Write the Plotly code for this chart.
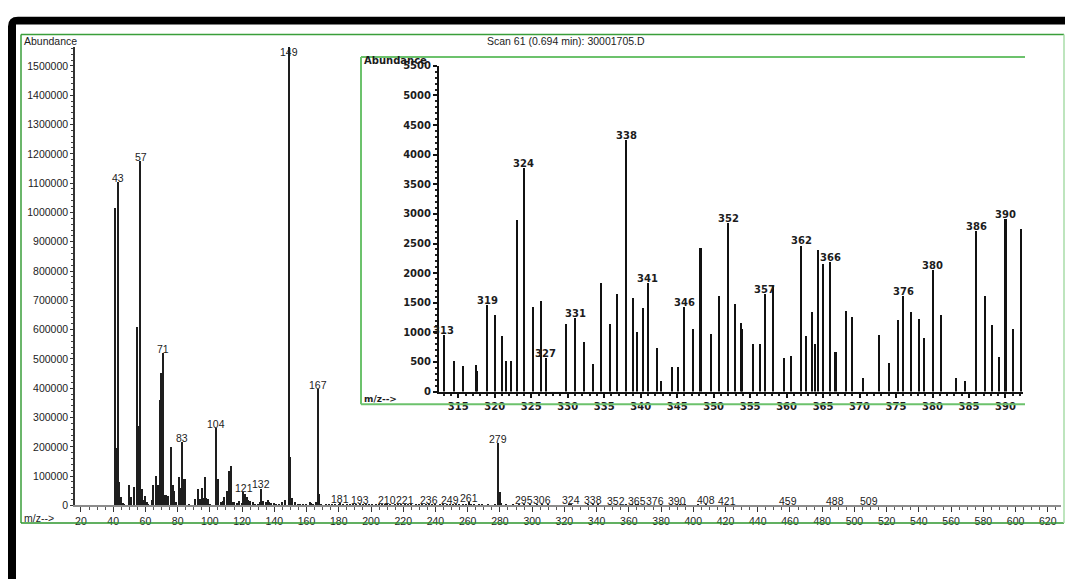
import plotly.graph_objects as go

W, H = 1065, 585

# ---- spectrum data: m/z and abundance ----
# low-mass region (main spectrum)
low_mz = [41, 42, 43, 44, 45, 46, 47, 50, 51, 53, 55, 56, 57, 58, 59, 60, 61, 62, 64, 65,
          67, 68, 69, 70, 71, 72, 73, 74, 76, 77, 78, 79, 81, 82, 83, 84, 85, 87, 91, 93,
          94, 95, 96, 97, 98, 99, 100, 104, 105, 107, 108, 109, 111, 112, 113, 114, 115, 117, 118, 120,
          121, 122, 123, 124, 125, 127, 128, 130, 131, 132, 133, 135, 136, 137, 138, 140, 141, 143, 145, 147,
          149, 150, 151, 153, 155, 156, 158, 160, 162, 163, 164, 166, 167, 168, 169, 172]
low_ab = [1015000, 195000, 1105000, 80000, 28000, 8000, 6700, 71000, 30000, 63000,
          610000, 273000, 1177000, 57000, 18000, 33500, 11000, 4500, 18000, 68500,
          102000, 68500, 361000, 454000, 521000, 34600, 34600, 34000, 198600, 68500,
          48000, 13400, 98600, 60500, 218000, 92000, 92000, 6700, 23400, 57000,
          23400, 60300, 25700, 96000, 25700, 23400, 6700, 265000, 89000, 13400,
          15000, 27800, 50000, 117000, 136000, 13400, 11200, 8000, 15600, 7800,
          47000, 39000, 28000, 20000, 16700, 11200, 6700, 5600, 13400, 58000,
          14500, 13400, 18000, 13400, 8000, 7800, 5600, 5600, 12000, 17900,
          1565000, 167000, 24500, 11200, 6700, 4500, 4500, 4500, 13400, 8000,
          5600, 11200, 398000, 39000, 5600, 4500]

# middle region
mid_mz = [174, 176, 178, 180, 181, 183, 185, 187, 189, 191, 193, 195, 197, 199, 201, 203, 205, 207, 209, 210,
          212, 215, 217, 219, 221, 223, 225, 228, 230, 232, 234, 236, 238, 240, 243, 245, 247, 249, 251, 253,
          255, 257, 259, 261, 262, 264, 267, 269, 273, 277, 279, 280, 281, 284, 288, 292, 295, 299, 303, 306, 310]
mid_ab = [3000, 4500, 3500, 5000, 8000, 4000, 3000, 4500, 3000, 3500, 6500, 3000, 4000, 2500, 3000, 3500, 2500, 4000, 3000, 5000,
          3000, 3500, 2500, 3000, 5000, 3000, 2500, 3000, 2500, 3500, 3000, 5500, 3000, 2500, 3000, 2500, 3000, 3500, 2500, 3000,
          4000, 3000, 3500, 11000, 4500, 3000, 2500, 3000, 2500, 2500, 214000, 44600, 8000, 2000, 2500, 2000, 3500, 2000, 2000, 3500, 2000]

# high-mass tail
high_mz = [395, 399, 403, 408, 412, 416, 421, 430, 440, 450, 459, 470, 480, 488, 497, 509]
high_ab = [2000, 1500, 2000, 6000, 1500, 1500, 3000, 1500, 1200, 1500, 2500, 1200, 1500, 2500, 1200, 2500]

# expanded region m/z 313-392 (inset)
zoom_mz = [313, 314.4, 315.6, 317.4, 317.6, 319, 320.0, 321.0, 321.6, 322.2,
           323.0, 324, 325.2, 326.3, 327, 329.7, 331, 332.2, 333.5, 334.6,
           335.8, 336.8, 338, 339.0, 339.5, 340.3, 341, 342.2, 342.8, 344.3,
           345.1, 346, 347.2, 348.2, 349.6, 350.8, 352, 352.9, 353.7, 353.9,
           355.4, 356.3, 357, 358.1, 359.6, 360.6, 362, 362.6, 363.5, 363.9,
           364.3, 365, 366, 366.7, 368.2, 369.0, 370.5, 372.6, 374.0, 375.3,
           376, 377.0, 378.1, 378.8, 380, 381.1, 383.2, 384.4, 386, 387.2,
           388.1, 389.1, 390, 391.0, 392.1]
zoom_ab = [960, 525, 436, 453, 353, 1457, 1292, 939, 519, 519,
           2898, 3781, 1424, 1535, 563, 1137, 1242, 839, 469, 1833,
           1143, 1651, 4256, 1590, 1005, 1413, 1838, 740, 182, 419,
           419, 1435, 1060, 2423, 972, 1612, 2853, 1474, 1154, 1060,
           811, 811, 1651, 1788, 563, 608, 2467, 939, 1346, 800,
           2401, 2164, 2191, 674, 1363, 1264, 232, 966, 485, 1214,
           1612, 1346, 1225, 911, 2053, 1303, 232, 187, 2716, 1612,
           1126, 591, 2920, 1060, 2744]

main_labels = [43, 57, 71, 83, 104, 121, 132, 149, 167, 181, 193, 210, 221, 236, 249, 261,
               279, 295, 306, 324, 338, 352, 365, 376, 390, 408, 421, 459, 488, 509]
zoom_labels = [313, 319, 324, 327, 331, 338, 341, 346, 352, 357, 362, 366, 376, 380, 386, 390]

title_text = "Scan 61 (0.694 min): 30001705.D"

# ---- assemble full spectrum ----
all_mz = low_mz + mid_mz + zoom_mz + high_mz
all_ab = low_ab + mid_ab + zoom_ab + high_ab
lookup = dict(zip(all_mz, all_ab))
zoom_lookup = dict(zip(zoom_mz, zoom_ab))


def fx(px):
    return px / W


def fy(py):
    return 1 - py / H


SANS = "Liberation Sans, Arial, sans-serif"
WIDE = "DejaVu Sans, Verdana, sans-serif"
TXT = "#1c1c1c"

fig = go.Figure()
fig.add_trace(go.Bar(x=all_mz, y=all_ab, width=0.9, marker=dict(color="#1e1e1e", line=dict(width=0)),
                     xaxis="x", yaxis="y", hoverinfo="x+y"))
fig.add_trace(go.Bar(x=zoom_mz, y=zoom_ab, width=0.28, marker=dict(color="#111111", line=dict(width=0)),
                     xaxis="x2", yaxis="y2", hoverinfo="x+y"))

ann = []
label_ceiling = 1535000
for m in main_labels:
    v = lookup[m]
    ann.append(dict(x=m, y=min(v, label_ceiling), xref="x", yref="y", text=str(m), showarrow=False,
                    yanchor="bottom", xanchor="center", yshift=-4,
                    font=dict(family=SANS, size=10.5, color=TXT)))
for m in zoom_labels:
    v = zoom_lookup[m]
    ann.append(dict(x=m, y=v, xref="x2", yref="y2", text=str(m), showarrow=False,
                    yanchor="bottom", xanchor="center", yshift=-3,
                    font=dict(family=WIDE, size=10, color=TXT, weight=700)))

ann += [
    dict(x=fx(566), y=fy(37), xref="paper", yref="paper", text=title_text, showarrow=False,
         xanchor="center", yanchor="middle", font=dict(family=SANS, size=10.5, color=TXT)),
    dict(x=fx(22), y=fy(37), xref="paper", yref="paper", text="Abundance", showarrow=False,
         xanchor="left", yanchor="middle", font=dict(family=SANS, size=10.5, color=TXT)),
    dict(x=fx(22), y=fy(523), xref="paper", yref="paper", text="m/z-->", showarrow=False,
         xanchor="left", yanchor="middle", font=dict(family=SANS, size=10.5, color=TXT)),
    dict(x=fx(362), y=fy(57), xref="paper", yref="paper", text="Abundance", showarrow=False,
         xanchor="left", yanchor="middle", font=dict(family=WIDE, size=10, color=TXT, weight=700)),
    dict(x=fx(362), y=fy(402), xref="paper", yref="paper", text="m/z-->", showarrow=False,
         xanchor="left", yanchor="middle", font=dict(family=WIDE, size=9, color=TXT, weight=700)),
]

# frame lines
def seg(x0, y0, x1, y1, color, width):
    return dict(type="line", xref="paper", yref="paper", x0=fx(x0), y0=fy(y0), x1=fx(x1), y1=fy(y1),
                line=dict(color=color, width=width))


frame_path = (f"M {fx(8)},{fy(585)} L {fx(8)},{fy(22)} Q {fx(8)},{fy(12)} {fx(18)},{fy(12)} "
              f"L {fx(1065)},{fy(12)} L {fx(1065)},{fy(20)} L {fx(16)},{fy(20)} L {fx(16)},{fy(585)} Z")
shapes = [
    dict(type="path", xref="paper", yref="paper", path=frame_path, fillcolor="#000000", line=dict(width=0)),
    seg(21, 30, 1064, 30, "#3a9e3a", 1.5),
    seg(21, 30, 21, 528, "#3a9e3a", 1.5),
    seg(21, 528, 1064, 528, "#2d962d", 1.5),
    seg(1064, 30, 1064, 528, "#a8dca8", 1.5),
    seg(361, 53, 1025, 53, "#6cc26c", 2),
    seg(361, 53, 361, 407, "#6cc26c", 2),
    seg(361, 407, 1025, 407, "#6cc26c", 2),
]

tick_font = dict(family=SANS, size=10.5, color=TXT)
wide_font = dict(family=WIDE, size=10, color=TXT, weight=700)

fig.update_layout(
    width=W, height=H, autosize=False,
    margin=dict(l=0, r=0, t=0, b=0, pad=0),
    paper_bgcolor="white", plot_bgcolor="rgba(0,0,0,0)",
    showlegend=False, barmode="overlay", bargap=0,
    annotations=ann, shapes=shapes,
    xaxis=dict(domain=[fx(75), fx(1061)], range=[16.3, 628.2], anchor="y",
               tick0=0, dtick=20, ticks="outside", ticklen=5, tickwidth=1, tickcolor="#333",
               minor=dict(dtick=5, tick0=0, ticks="outside", ticklen=3, tickcolor="#555", showgrid=False),
               showline=True, linecolor="#8c8c8c", linewidth=2, showgrid=False, zeroline=False,
               tickfont=tick_font),
    yaxis=dict(domain=[fy(510), fy(42.7)], range=[0, 1565000], anchor="x",
               tick0=0, dtick=100000, tickformat="d", ticks="outside", ticklen=3, tickwidth=1, tickcolor="#333",
               minor=dict(dtick=20000, tick0=0, ticks="outside", ticklen=2, tickcolor="#444", showgrid=False),
               showline=True, linecolor="#333", linewidth=1.5, showgrid=False, zeroline=False,
               tickfont=tick_font),
    xaxis2=dict(domain=[fx(439), fx(1023)], range=[312.36, 392.4], anchor="y2",
                tick0=0, dtick=5, ticks="outside", ticklen=4, tickwidth=1.5, tickcolor="#111",
                minor=dict(dtick=1, tick0=0, ticks="outside", ticklen=2.5, tickcolor="#222", showgrid=False),
                showline=True, linecolor="#111", linewidth=2, showgrid=False, zeroline=False,
                tickfont=wide_font),
    yaxis2=dict(domain=[fy(394), fy(62)], range=[0, 5500], anchor="x2",
                tick0=0, dtick=500, ticks="outside", ticklen=4, tickwidth=1.5, tickcolor="#111",
                minor=dict(dtick=100, tick0=0, ticks="outside", ticklen=2, tickcolor="#222", showgrid=False),
                showline=True, linecolor="#111", linewidth=2, showgrid=False, zeroline=False,
                tickfont=wide_font),
)

fig.write_html("out.html")
